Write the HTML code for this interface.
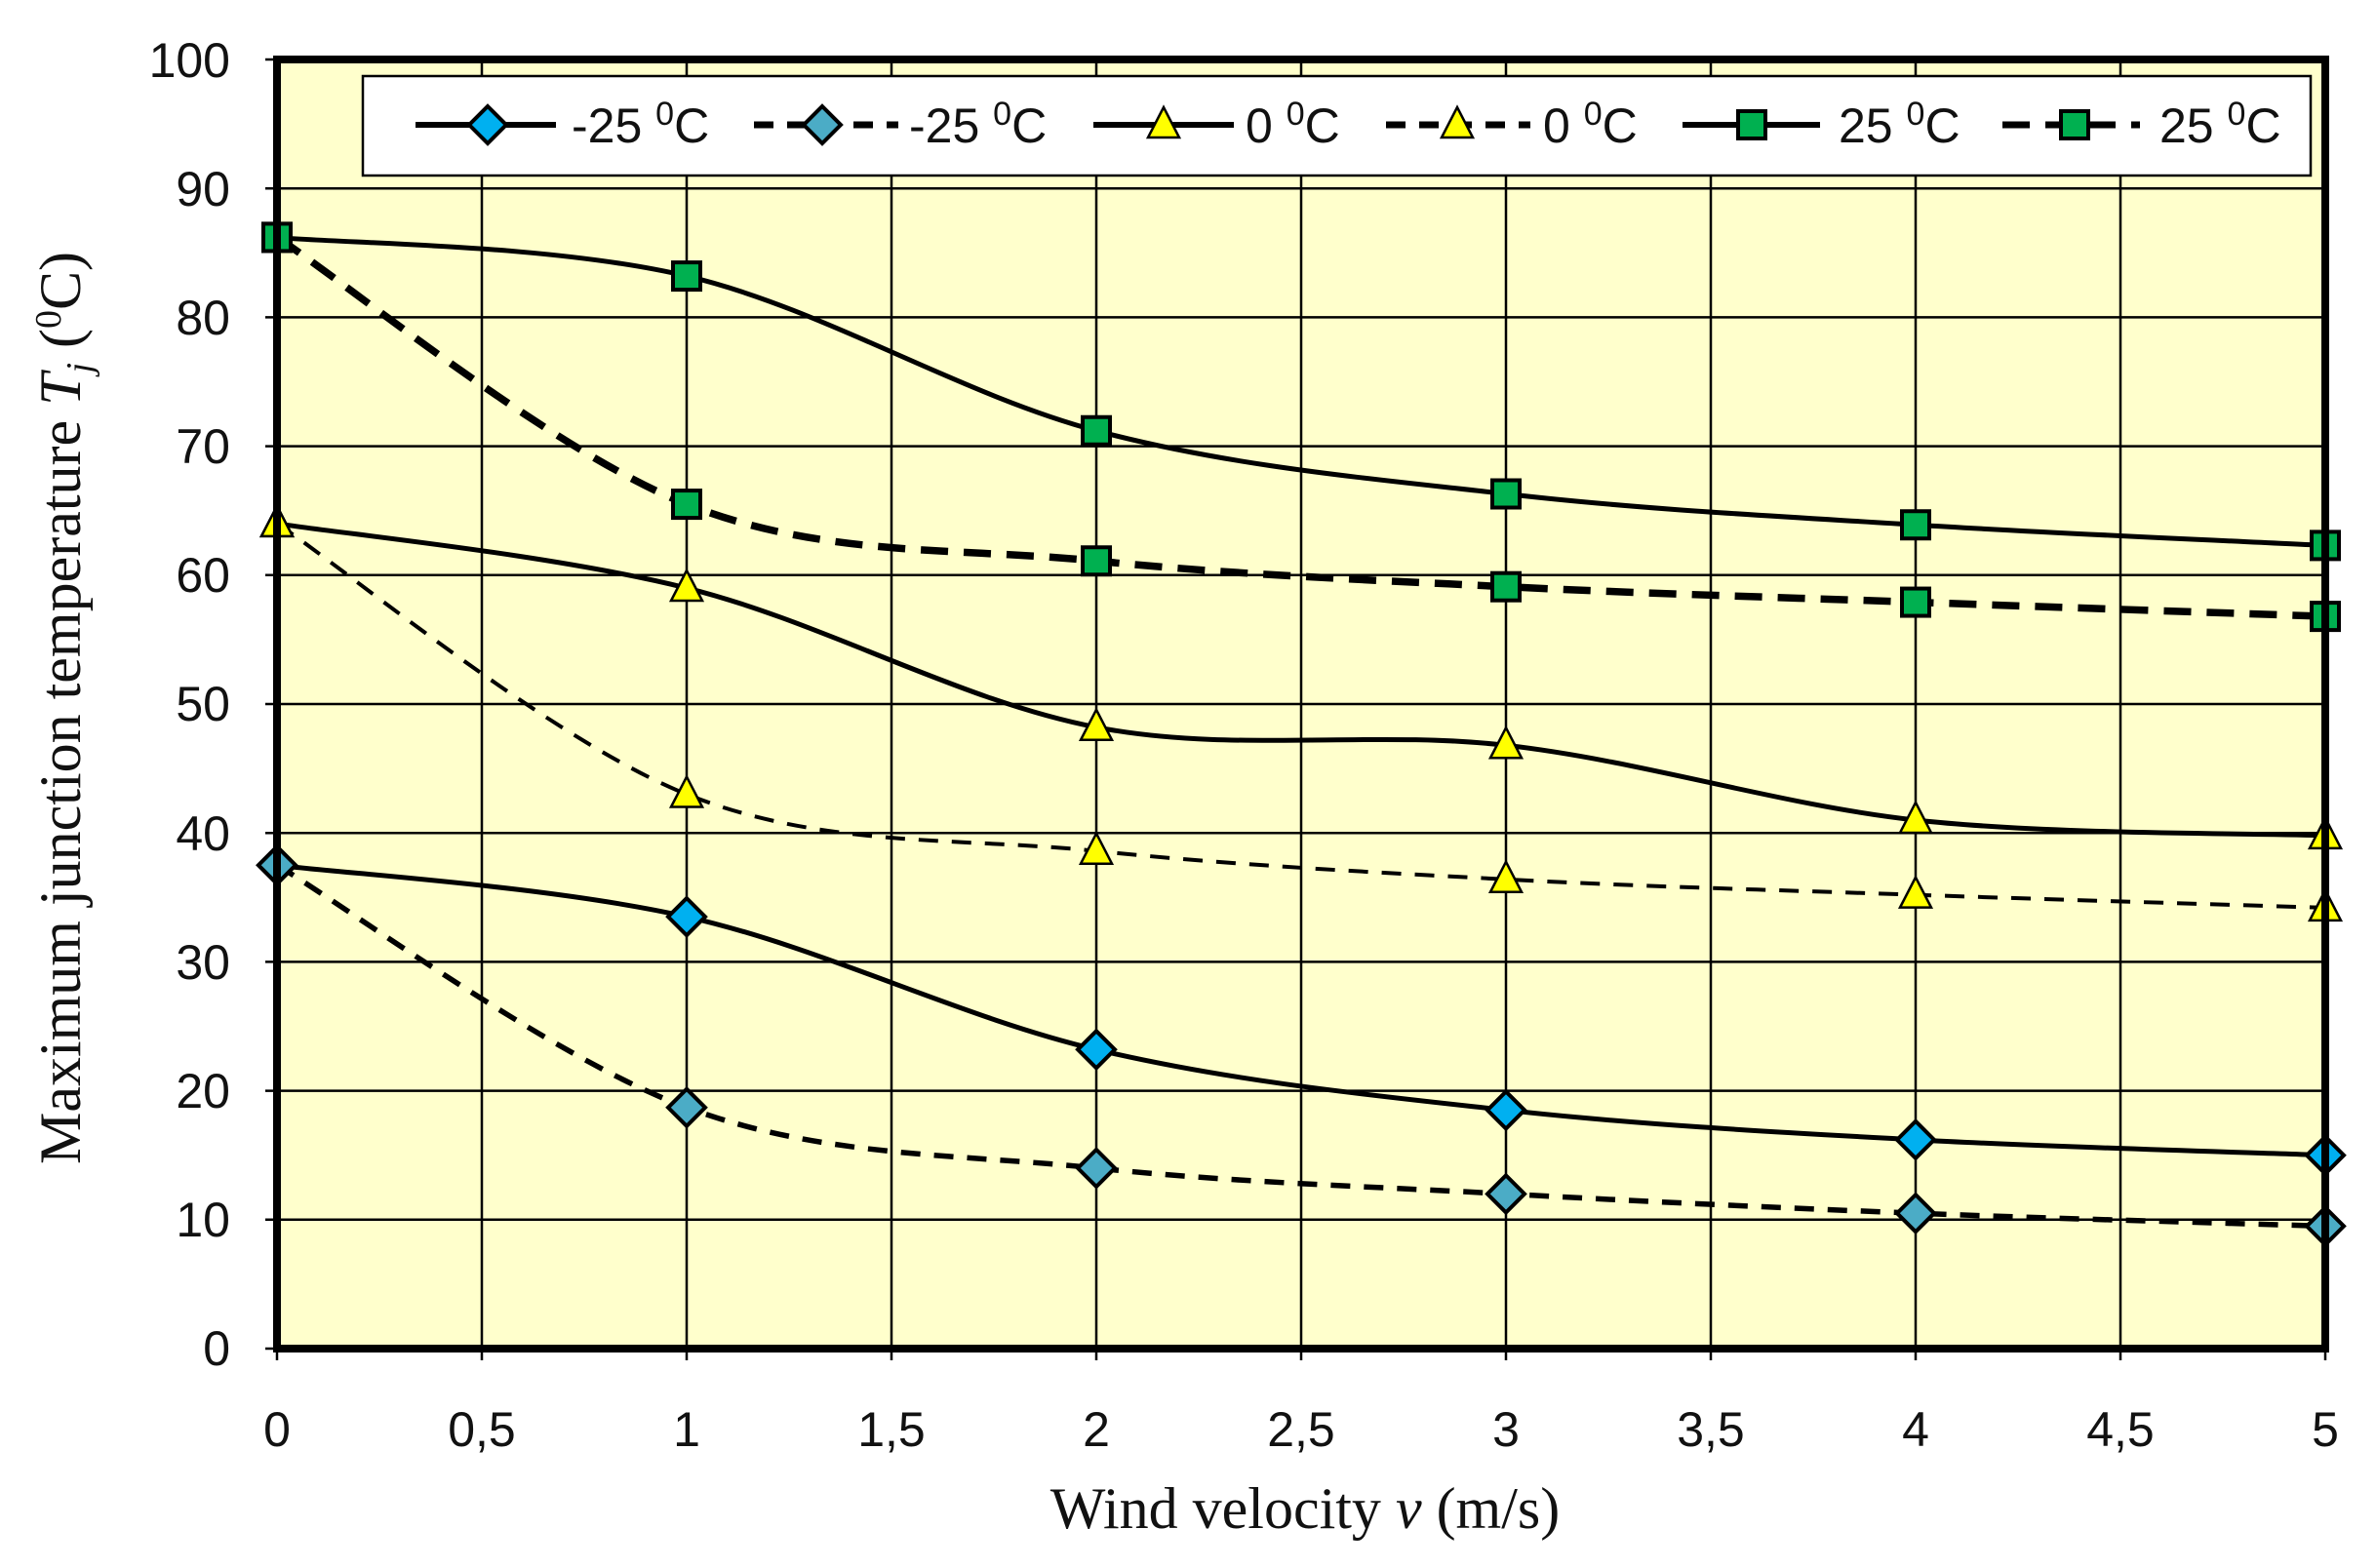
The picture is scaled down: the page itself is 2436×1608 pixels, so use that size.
<!DOCTYPE html>
<html><head><meta charset="utf-8"><style>
body{margin:0;background:#fff}
svg{display:block}
.t{font-family:"Liberation Sans Narrow","Liberation Sans",sans-serif;font-size:50px;fill:#111}
.s{font-family:"Liberation Serif",serif;font-size:60px;fill:#111}
</style></head><body>
<svg id="c" width="2436" height="1608" viewBox="0 0 2436 1608" xmlns="http://www.w3.org/2000/svg">
<rect x="284" y="61" width="2100" height="1322" fill="#FFFFCC"/>
<g id="grid" stroke="#000" stroke-width="2.5"></g>
<g id="curves"></g>
<rect x="284" y="61" width="2100" height="1322" fill="none" stroke="#000" stroke-width="8"/>
<rect x="372" y="78" width="1997" height="102" fill="#fff" stroke="#000" stroke-width="2.5"/>
<g id="leg"></g>
<g class="t" text-anchor="end">
<text x="236" y="79">100</text><text x="236" y="211">90</text><text x="236" y="343">80</text>
<text x="236" y="475">70</text><text x="236" y="607">60</text><text x="236" y="739">50</text>
<text x="236" y="872">40</text><text x="236" y="1004">30</text><text x="236" y="1136">20</text>
<text x="236" y="1268">10</text><text x="236" y="1400">0</text>
</g>
<g class="t" text-anchor="middle">
<text x="284" y="1483">0</text><text x="494" y="1483">0,5</text><text x="704" y="1483">1</text>
<text x="914" y="1483">1,5</text><text x="1124" y="1483">2</text><text x="1334" y="1483">2,5</text>
<text x="1544" y="1483">3</text><text x="1754" y="1483">3,5</text><text x="1964" y="1483">4</text>
<text x="2174" y="1483">4,5</text><text x="2384" y="1483">5</text>
</g>
<text class="s" x="1338" y="1567" text-anchor="middle">Wind velocity <tspan font-style="italic">v</tspan> (m/s)</text>
<text class="s" transform="translate(82,726) rotate(-90)" text-anchor="middle">Maximum junction temperature <tspan font-style="italic">T</tspan><tspan font-style="italic" font-size="38" dy="12">j</tspan><tspan dy="-12"> (</tspan><tspan font-size="38" dy="-20">0</tspan><tspan dy="20">C)</tspan></text>
<g class="t" font-size="50">
<text x="586" y="146">-25 <tspan font-size="34" dy="-18">0</tspan><tspan dy="18">C</tspan></text>
<text x="932" y="146">-25 <tspan font-size="34" dy="-18">0</tspan><tspan dy="18">C</tspan></text>
<text x="1277" y="146">0 <tspan font-size="34" dy="-18">0</tspan><tspan dy="18">C</tspan></text>
<text x="1582" y="146">0 <tspan font-size="34" dy="-18">0</tspan><tspan dy="18">C</tspan></text>
<text x="1885" y="146">25 <tspan font-size="34" dy="-18">0</tspan><tspan dy="18">C</tspan></text>
<text x="2214" y="146">25 <tspan font-size="34" dy="-18">0</tspan><tspan dy="18">C</tspan></text>
</g>
</svg>
<script>
const NS="http://www.w3.org/2000/svg";
const X=v=>284+420*v, Y=t=>1383-13.22*t;
function el(p,tag,a){const e=document.createElementNS(NS,tag);for(const k in a)e.setAttribute(k,a[k]);p.appendChild(e);return e;}
const g=document.getElementById('grid');
for(let i=1;i<10;i++){el(g,'line',{x1:X(i/2),x2:X(i/2),y1:61,y2:1395});}
for(let i=1;i<10;i++){el(g,'line',{x1:272,x2:2384,y1:Y(i*10),y2:Y(i*10)});}
el(g,'line',{x1:272,x2:284,y1:61,y2:61});el(g,'line',{x1:272,x2:284,y1:1383,y2:1383});
el(g,'line',{x1:284,x2:284,y1:1383,y2:1395});el(g,'line',{x1:2384,x2:2384,y1:1383,y2:1395});
const S=[
 {d:[37.5,33.5,23.2,18.5,16.2,15],m:'d',c:'#00B0F0',dash:null,w:5},
 {d:[37.5,18.7,14,12,10.5,9.5],m:'d',c:'#4BACC6',dash:'20 14',w:5.5},
 {d:[64,59,48.2,46.8,41,39.8],m:'t',c:'#FFFF00',dash:null,w:5},
 {d:[64,43,38.6,36.4,35.2,34.2],m:'t',c:'#FFFF00',dash:'20 14',w:4},
 {d:[86.2,83.2,71.2,66.3,63.9,62.3],m:'s',c:'#00B050',dash:null,w:5},
 {d:[86.2,65.5,61.1,59.1,57.9,56.8],m:'s',c:'#00B050',dash:'28 16',w:7.5}];
function marker(p,m,x,y,c){
 if(m==='d')el(p,'polygon',{points:`${x},${y-19} ${x+19},${y} ${x},${y+19} ${x-19},${y}`,fill:c,stroke:'#000','stroke-width':4});
 else if(m==='t')el(p,'polygon',{points:`${x},${y-18} ${x+16},${y+13} ${x-16},${y+13}`,fill:c,stroke:'#000','stroke-width':2.5});
 else el(p,'rect',{x:x-14,y:y-14,width:28,height:28,fill:c,stroke:'#000','stroke-width':4});
}
const cv=document.getElementById('curves');
S.forEach(s=>{
 const P=s.d.map((t,i)=>[X(i),Y(t)]);
 let d=`M${P[0][0]},${P[0][1]}`;
 for(let i=0;i<P.length-1;i++){
  const p0=P[Math.max(i-1,0)],p1=P[i],p2=P[i+1],p3=P[Math.min(i+2,P.length-1)];
  const k=1/6;
  d+=` C${p1[0]+(p2[0]-p0[0])*k},${p1[1]+(p2[1]-p0[1])*k} ${p2[0]-(p3[0]-p1[0])*k},${p2[1]-(p3[1]-p1[1])*k} ${p2[0]},${p2[1]}`;
 }
 const a={d:d,fill:'none',stroke:'#000','stroke-width':s.w};
 if(s.dash)a['stroke-dasharray']=s.dash;
 el(cv,'path',a);
});
S.forEach(s=>{s.d.forEach((t,i)=>marker(cv,s.m,X(i),Y(t),s.c));});
const lg=document.getElementById('leg');
const LX=[[426,570,500],[773,921,843],[1121,1265,1193],[1421,1569,1494],[1725,1866,1796],[2053,2194,2127]];
S.forEach((s,i)=>{const a={x1:LX[i][0],x2:LX[i][1],y1:128,y2:128,stroke:'#000','stroke-width':s.dash?7:6};
 if(s.dash)a['stroke-dasharray']=s.dash;el(lg,'line',a);marker(lg,s.m,LX[i][2],128,s.c);});
</script>
</body></html>
